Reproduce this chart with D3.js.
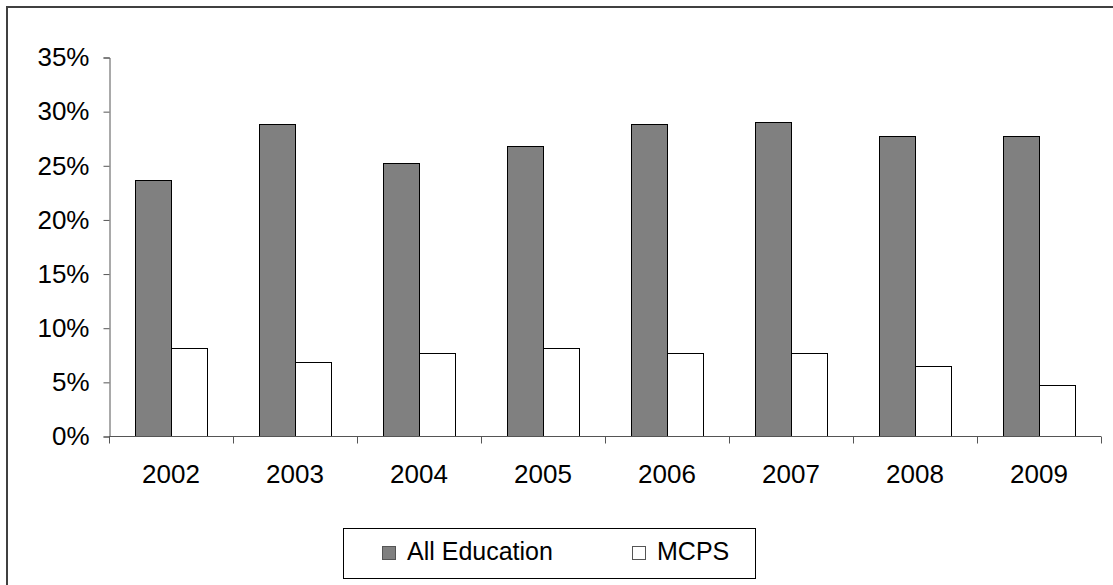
<!DOCTYPE html>
<html>
<head>
<meta charset="utf-8">
<script src="https://cdn.jsdelivr.net/npm/d3@7"></script>
<style>
  html, body { margin: 0; padding: 0; background: #fff; }
  svg { display: block; }
  text { font-family: "Liberation Sans", Arial, sans-serif; fill: #000; }
</style>
</head>
<body>
<svg id="chart" width="1113" height="585"></svg>
<script>
// Share of spending by year (percent)
const years = ["2002", "2003", "2004", "2005", "2006", "2007", "2008", "2009"];
const allEducation = [23.6, 28.8, 25.2, 26.75, 28.8, 29.0, 27.7, 27.7];
const mcps = [8.1, 6.8, 7.65, 8.1, 7.65, 7.65, 6.5, 4.7];
const seriesNames = ["All Education", "MCPS"];
const seriesFills = ["#808080", "#ffffff"];
const yTicks = [0, 5, 10, 15, 20, 25, 30, 35];

const svg = d3.select("#chart");

// outer frame (runs off the right and bottom edges)
svg.append("rect")
  .attr("x", 7).attr("y", 7)
  .attr("width", 1130).attr("height", 600)
  .attr("fill", "none")
  .attr("stroke", "#404040")
  .attr("stroke-width", 2);

const plot = { left: 109, right: 1101, top: 57, bottom: 436 };

const x = d3.scaleBand()
  .domain(years)
  .range([plot.left, plot.right])
  .paddingInner(0)
  .paddingOuter(0);

const y = d3.scaleLinear()
  .domain([0, 35])
  .range([plot.bottom, plot.top]);

const barW = 36;
const groupW = barW * 2;

const rows = years.map((yr, i) => ({ year: yr, values: [allEducation[i], mcps[i]] }));

const groups = svg.append("g").selectAll("g")
  .data(rows)
  .join("g")
  .attr("transform", d => `translate(${x(d.year) + (x.bandwidth() - groupW) / 2},0)`);

groups.selectAll("rect")
  .data(d => d.values.map((v, k) => ({ v, k })))
  .join("rect")
  .attr("x", d => d.k * barW + 0.5)
  .attr("y", d => Math.round(y(d.v)) + 0.5)
  .attr("width", barW)
  .attr("height", d => plot.bottom - Math.round(y(d.v)))
  .attr("fill", d => seriesFills[d.k])
  .attr("stroke", "#000")
  .attr("stroke-width", 1);

// y axis
const yAxis = d3.axisLeft(y)
  .tickValues(yTicks)
  .tickFormat(d => d + "%")
  .tickSize(6)
  .tickPadding(14);

const gy = svg.append("g")
  .attr("transform", `translate(${plot.left + 0.5},0.5)`)
  .call(yAxis);
gy.select(".domain").attr("stroke", "#555");
gy.selectAll(".tick line").attr("stroke", "#555");
gy.selectAll(".tick text")
  .attr("font-size", 26)
  .attr("font-family", "Liberation Sans, Arial, sans-serif")
  .attr("fill", "#000");

// x axis with ticks at category boundaries
const gx = svg.append("g")
  .attr("transform", `translate(0,${plot.bottom + 0.5})`);
gx.append("line")
  .attr("x1", plot.left).attr("x2", plot.right)
  .attr("stroke", "#555");
const bounds = years.map(d => x(d)).concat([x(years[years.length - 1]) + x.bandwidth()]);
gx.selectAll("line.tk")
  .data(bounds)
  .join("line")
  .attr("class", "tk")
  .attr("x1", d => d + 0.5).attr("x2", d => d + 0.5)
  .attr("y1", 0).attr("y2", 7)
  .attr("stroke", "#555");
gx.selectAll("text")
  .data(years)
  .join("text")
  .attr("x", d => x(d) + x.bandwidth() / 2)
  .attr("y", 46)
  .attr("text-anchor", "middle")
  .attr("font-size", 26)
  .text(d => d);

// legend
const legend = svg.append("g");
legend.append("rect")
  .attr("x", 343.5).attr("y", 528.5)
  .attr("width", 412).attr("height", 50)
  .attr("fill", "#fff")
  .attr("stroke", "#000");
const legendX = [382, 632];
seriesNames.forEach((name, k) => {
  legend.append("rect")
    .attr("x", legendX[k] + 0.5).attr("y", 546.5)
    .attr("width", 13).attr("height", 13)
    .attr("fill", seriesFills[k])
    .attr("stroke", "#555");
  legend.append("text")
    .attr("x", legendX[k] + 25)
    .attr("y", 560)
    .attr("font-size", 25)
    .text(name);
});
</script>
</body>
</html>
